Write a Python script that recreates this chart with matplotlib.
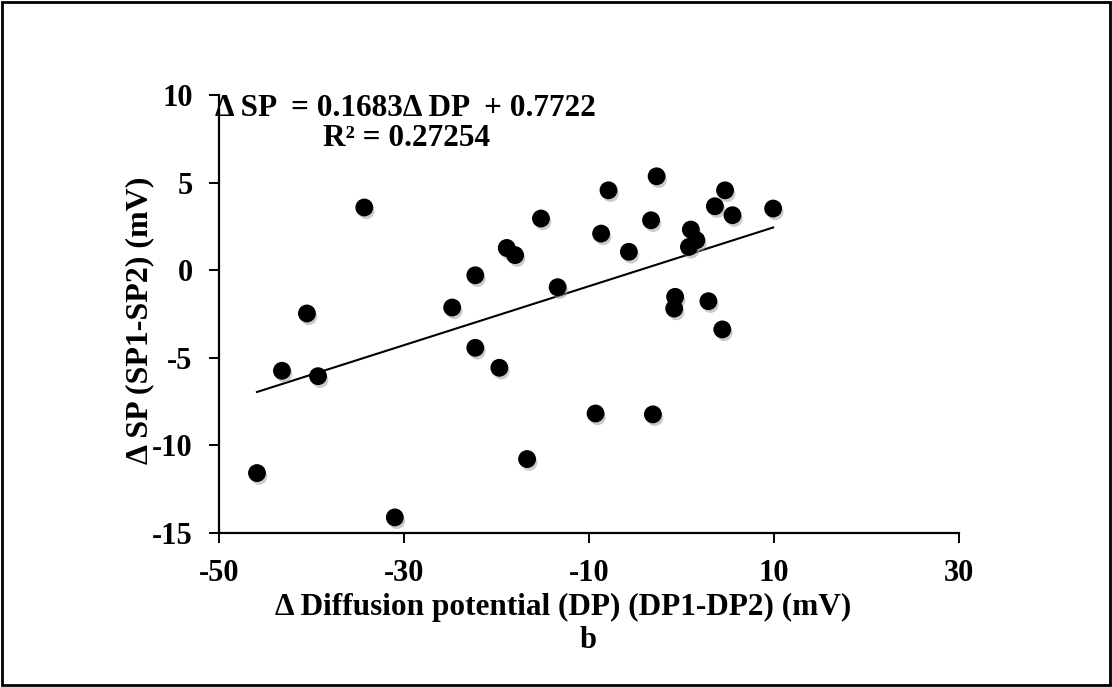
import matplotlib
matplotlib.use("Agg")
import matplotlib.pyplot as plt
import matplotlib.patheffects as pe
from matplotlib.patches import Rectangle
import numpy as np

plt.rcParams['font.family'] = ['Liberation Serif', 'DejaVu Serif']
plt.rcParams['font.weight'] = 'bold'
plt.rcParams['axes.unicode_minus'] = False

# delta diffusion potential (mV) and delta SP (mV)
dp = [-45.9, -43.2, -40.5, -39.3, -34.3, -31.0, -24.8, -22.3, -22.3, -19.7,
      -18.9, -18.0, -16.7, -15.2, -13.4, -9.3, -8.7, -7.9, -5.7, -3.3,
      -2.7, -3.1, -0.7, -0.8, 1.0, 1.6, 0.8, 2.9, 3.6, 4.4,
      4.7, 5.5, 9.9]
sp = [-11.58, -5.74, -2.47, -6.05, 3.58, -14.11, -2.13, -0.29, -4.43, -5.57,
      1.27, 0.86, -10.78, 2.95, -0.97, -8.18, 2.09, 4.56, 1.05, 2.85,
      5.36, -8.23, -1.52, -2.19, 2.32, 1.71, 1.33, -1.77, 3.65, -3.38,
      4.56, 3.14, 3.52]

slope = 0.1683
intercept = 0.7722
r2 = 0.27254

xticks = [-50, -30, -10, 10, 30]
yticks = [-15, -10, -5, 0, 5, 10]

fig = plt.figure(figsize=(11.12, 6.87), dpi=100)
ax = fig.add_axes([0.197, 0.2242, 0.6655, 0.6375])

ax.scatter(dp, sp, s=140, color='black', zorder=3,
           path_effects=[pe.SimplePatchShadow(offset=(1.5, -2.5), shadow_rgbFace='#999999', alpha=0.5),
                         pe.Normal()])

# trendline
xl = np.array([min(dp), max(dp)])
ax.plot(xl, slope * xl + intercept, color='black', lw=1.5, zorder=2)

ax.set_xlim(-50, 30)
ax.set_ylim(-15, 10)
ax.set_xticks(xticks)
ax.set_yticks(yticks)
for s in ['top', 'right']:
    ax.spines[s].set_visible(False)
for s in ['left', 'bottom']:
    ax.spines[s].set_linewidth(1.6)
ax.tick_params(direction='out', length=7, width=1.4, labelsize=22, pad=12)
for lab in ax.get_xticklabels() + ax.get_yticklabels():
    lab.set_fontweight('bold')

ax.set_xlabel('Δ Diffusion potential (DP) (DP1-DP2) (mV)', fontsize=22.5, fontweight='bold')
ax.set_ylabel('Δ SP (SP1-SP2) (mV)', fontsize=23, fontweight='bold')
ax.xaxis.label.set_va('center')
ax.yaxis.label.set_va('center')
ax.xaxis.set_label_coords(0.465, -0.169)
ax.yaxis.set_label_coords(-0.107, 0.486)

ax.text(-0.005, 0.97, 'Δ SP  = %.4fΔ DP  + %.4f' % (slope, intercept), transform=ax.transAxes,
        fontsize=22.5, fontweight='bold', ha='left', va='center')
ax.text(0.254, 0.9, 'R² = %.5f' % r2, transform=ax.transAxes,
        fontsize=22.5, fontweight='bold', ha='center', va='center')

fig.text(0.529, 0.068, 'b', fontsize=22, fontweight='bold', ha='center', va='center')

fig.patches.append(Rectangle((0.002, 0.003), 0.996, 0.994, transform=fig.transFigure,
                             fill=False, edgecolor='black', lw=2))

fig.savefig('out.png', dpi=100)
